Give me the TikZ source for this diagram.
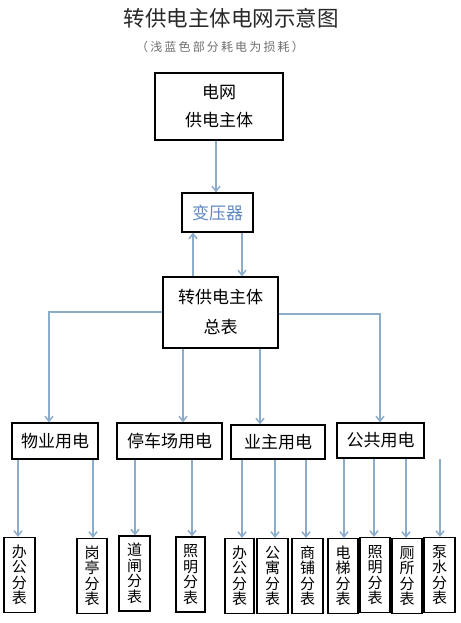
\documentclass[tikz,border=0pt]{standalone}
\usepackage{fontspec}
\newfontfamily\cjk{Noto Sans CJK SC}
\usetikzlibrary{arrows.meta}
\definecolor{arrblue}{RGB}{140,172,204}
\definecolor{tfblue}{RGB}{95,135,195}
\definecolor{titlegray}{RGB}{40,40,40}
\definecolor{subgray}{RGB}{110,110,110}
\tikzset{
  box/.style={draw=black,line width=1.2pt,inner sep=0pt,align=center,font=\cjk\fontsize{17}{28}\selectfont},
  vbox/.style={box,minimum width=30pt,minimum height=75pt,font=\cjk\fontsize{15}{15.5}\selectfont},
  arr/.style={draw=arrblue,line width=1.5pt,-{Straight Barb[length=5pt,width=8pt]}}
}
\begin{document}
\begin{tikzpicture}[x=1pt,y=-1pt]
\useasboundingbox (0,0) rectangle (460,623);
\node[font=\cjk\fontsize{21.5}{21.5}\selectfont,text=titlegray] (title) at (231,18) {转供电主体电网示意图};
\node[font=\cjk\fontsize{12}{12}\selectfont\addfontfeatures{LetterSpace=18},text=subgray] (sub) at (220,47) {（浅蓝色部分耗电为损耗）};
\node[box,minimum width=128pt,minimum height=67pt] (grid) at (219,106.5) {电网\\供电主体};
\node[box,minimum width=71pt,minimum height=39pt,text=tfblue] (tf) at (217.5,212.5) {变压器};
\node[box,minimum width=115pt,minimum height=71pt,font=\cjk\fontsize{17}{30}\selectfont] (tot) at (220.5,312.5) {转供电主体\\总表};
\node[box,minimum width=86pt,minimum height=36pt] (wy) at (55,441) {物业用电};
\node[box,minimum width=105pt,minimum height=36pt] (tc) at (169.5,441) {停车场用电};
\node[box,minimum width=94pt,minimum height=34pt] (yz) at (278,442) {业主用电};
\node[box,minimum width=87pt,minimum height=35pt] (gg) at (380.5,440.5) {公共用电};
\node[vbox,minimum width=31pt] (b1) at (19.5,575) {办\\公\\分\\表};
\node[vbox] (b2) at (92,576) {岗\\亭\\分\\表};
\node[vbox,minimum width=31pt] (b3) at (134.5,573.5) {道\\闸\\分\\表};
\node[vbox,minimum width=29pt] (b4) at (190.5,574.5) {照\\明\\分\\表};
\node[vbox,minimum width=29pt] (b5) at (239.5,576) {办\\公\\分\\表};
\node[vbox,minimum width=31pt] (b6) at (272.5,576) {公\\寓\\分\\表};
\node[vbox,minimum width=31pt] (b7) at (307.5,576) {商\\铺\\分\\表};
\node[vbox] (b8) at (343,576) {电\\梯\\分\\表};
\node[vbox] (b9) at (375,575) {照\\明\\分\\表};
\node[vbox] (b10) at (407,576) {厕\\所\\分\\表};
\node[vbox,minimum width=31pt] (b11) at (439.5,575) {泵\\水\\分\\表};
% coordinates for connector columns
\coordinate (x1) at (216,0);
\coordinate (xu) at (193,0);
\coordinate (xd) at (242,0);
\coordinate (cl) at (49,312);
\coordinate (cr) at (380,314);
\coordinate (xm1) at (183,0);
\coordinate (xm2) at (260,0);
\foreach \i/\x in {1/18,2/93,3/135,4/192,5/242,6/275,7/306,8/344,9/374,10/406,11/440}
  {\coordinate (k\i) at (\x,0);}
% connectors
\draw[arr] (grid.south -| x1) -- (tf.north -| x1);
\draw[arr] (tot.north -| xu) -- (tf.south -| xu);
\draw[arr] (tf.south -| xd) -- (tot.north -| xd);
\draw[arr] (tot.west |- cl) -- (cl) -- (cl |- wy.north);
\draw[arr] (tot.east |- cr) -- (cr) -- (cr |- gg.north);
\draw[arr] (tot.south -| xm1) -- (tc.north -| xm1);
\draw[arr] (tot.south -| xm2) -- (yz.north -| xm2);
\draw[arr] (wy.south -| k1) -- (b1.north -| k1);
\draw[arr] (wy.south -| k2) -- (b2.north -| k2);
\draw[arr] (tc.south -| k3) -- (b3.north -| k3);
\draw[arr] (tc.south -| k4) -- (b4.north -| k4);
\draw[arr] (yz.south -| k5) -- (b5.north -| k5);
\draw[arr] (yz.south -| k6) -- (b6.north -| k6);
\draw[arr] (yz.south -| k7) -- (b7.north -| k7);
\draw[arr] (gg.south -| k8) -- (b8.north -| k8);
\draw[arr] (gg.south -| k9) -- (b9.north -| k9);
\draw[arr] (gg.south -| k10) -- (b10.north -| k10);
\draw[arr] (gg.south -| k11) -- (b11.north -| k11);
\end{tikzpicture}
\end{document}
